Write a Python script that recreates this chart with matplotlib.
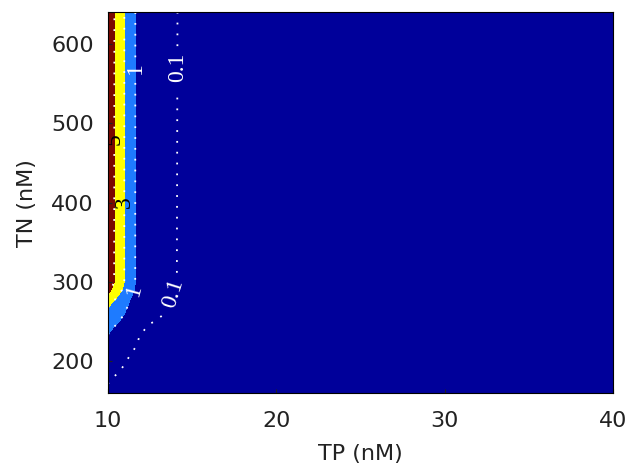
import numpy as np
import matplotlib.pyplot as plt

# TP-akseli (nM) ja TN-akseli (nM), arvot luettu kuvasta
tp = [10.0, 10.35, 10.7, 11.0, 11.3, 11.65, 12.5, 14.15, 20.0, 40.0]
tn = [160, 180, 200, 220, 230, 240, 250, 260, 270, 280, 290, 300, 640]

# pinnan arvot, rivi per TN-arvo
z = [
    [0.02, 0.015, 0.01, 0.008, 0.006, 0.004, 0.002, 0.0008, 0.0001, 0.00005],
    [0.16, 0.098, 0.075, 0.055, 0.04, 0.03, 0.01, 0.003, 0.0003, 0.0001],
    [0.3, 0.2, 0.15, 0.11, 0.08, 0.06, 0.02, 0.005, 0.0005, 0.0001],
    [0.6, 0.4, 0.28, 0.2, 0.14, 0.105, 0.03, 0.008, 0.0008, 0.0002],
    [0.85, 0.55, 0.4, 0.28, 0.19, 0.12, 0.04, 0.01, 0.001, 0.0002],
    [1.3, 0.85, 0.6, 0.42, 0.28, 0.17, 0.06, 0.015, 0.0015, 0.0003],
    [2.0, 1.4, 0.97, 0.7, 0.5, 0.33, 0.115, 0.02, 0.002, 0.0004],
    [2.6, 1.9, 1.35, 0.98, 0.7, 0.45, 0.18, 0.03, 0.003, 0.0005],
    [3.2, 2.5, 1.8, 1.3, 0.85, 0.55, 0.22, 0.04, 0.004, 0.0006],
    [4.7, 3.4, 2.5, 1.8, 1.08, 0.7, 0.28, 0.05, 0.005, 0.0008],
    [5.6, 4.5, 3.4, 2.6, 1.7, 0.85, 0.35, 0.06, 0.006, 0.001],
    [6.8, 5.1, 3.95, 2.95, 1.95, 0.95, 0.45, 0.09, 0.009, 0.001],
    [7.0, 5.15, 4.0, 2.95, 2.0, 0.97, 0.5, 0.098, 0.01, 0.001],
]

fill_levels = [0, 1, 3, 5, 10]
line_levels = [0.1, 1, 3, 5]
fill_colors = ['#00009A', '#1E7BFF', '#FFFF00', '#7A0800']
label_colors = ['white', 'white', 'black', 'black']

TP, TN = np.meshgrid(tp, tn)
Z = np.array(z)

fig = plt.figure(figsize=(6.3, 4.69), dpi=100)
ax = fig.add_axes([0.171, 0.162, 0.802, 0.812])

ax.contourf(TP, TN, Z, levels=fill_levels, colors=fill_colors)
cs = ax.contour(TP, TN, Z, levels=line_levels, colors='white',
                linestyles=[(0, (1, 5))], linewidths=1.3)

# tekstien paikat kuvasta
paikat = [(10.4, 480), (11.0, 400), (11.65, 570), (11.55, 290),
          (14.15, 570), (13.9, 285)]
labels = ax.clabel(cs, manual=paikat, inline=True, inline_spacing=3,
                   fontsize=17, fmt='%g', colors=label_colors)
for t in labels:
    t.set_fontfamily('Liberation Serif')

ax.set_xlim(10, 40)
ax.set_ylim(160, 640)
ax.set_xticks([10, 20, 30, 40])
ax.set_yticks([200, 300, 400, 500, 600])
ax.tick_params(direction='in', length=3, labelsize=16, colors='#222222', pad=10)
ax.tick_params(axis='x', pad=13)
ax.set_xlabel('TP (nM)', fontsize=16, color='#222222', labelpad=9)
ax.set_ylabel('TN (nM)', fontsize=16, color='#222222', labelpad=10)

fig.savefig('out.png', dpi=100)
